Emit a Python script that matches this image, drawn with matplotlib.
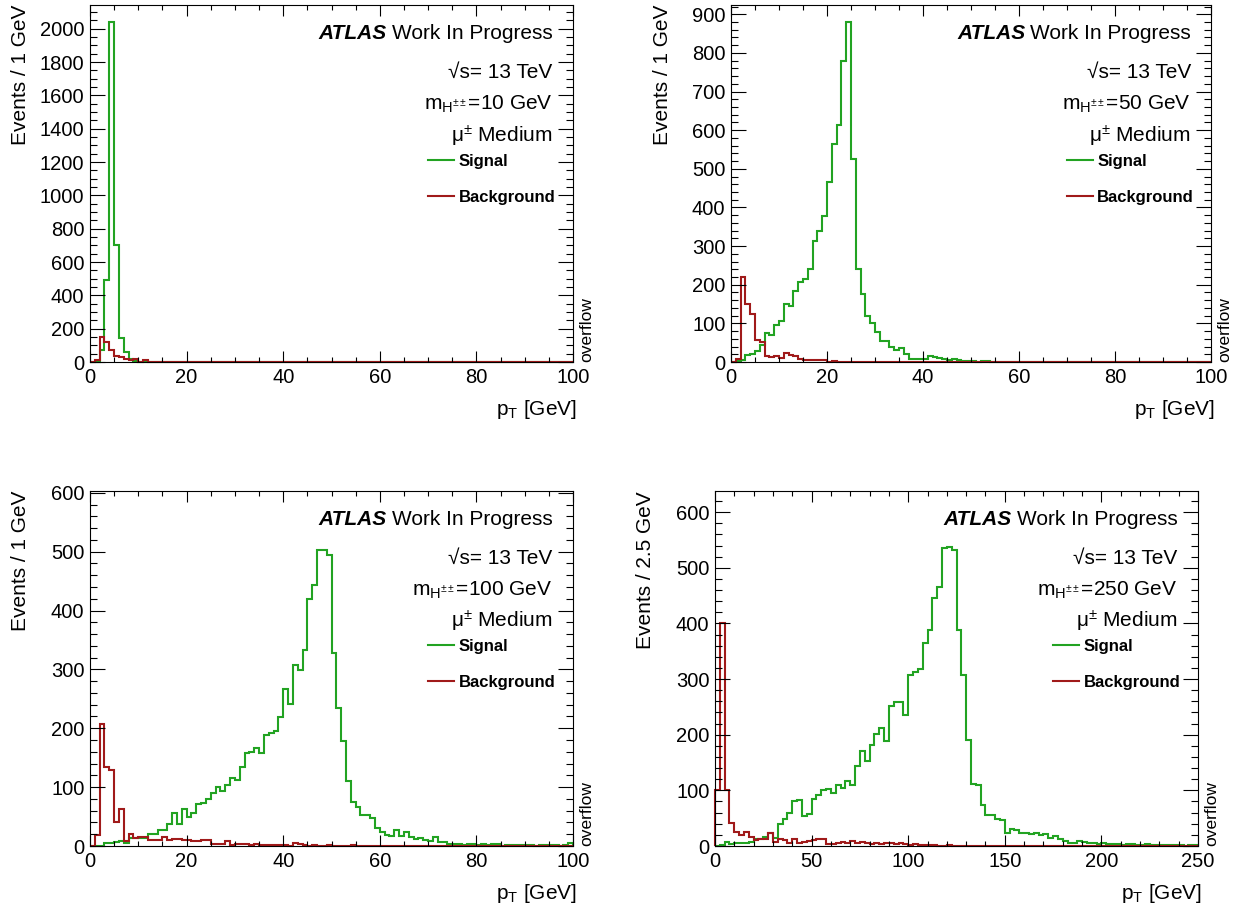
import numpy as np
import matplotlib
matplotlib.use('Agg')
import matplotlib.pyplot as plt
from matplotlib.ticker import MultipleLocator

plt.rcParams['font.family'] = ['Liberation Sans', 'DejaVu Sans']
plt.rcParams['mathtext.fontset'] = 'custom'
plt.rcParams['mathtext.rm'] = 'Liberation Sans'
plt.rcParams['mathtext.it'] = 'Liberation Sans:italic'
plt.rcParams['mathtext.bf'] = 'Liberation Sans:bold'

GREEN = '#22a322'
RED = '#a01a1a'

# muon pT, 1 GeV bins (0-100) for m = 10, 50, 100 GeV; 2.5 GeV bins (0-250) for m = 250 GeV
sig_10 = [
    0, 0, 72, 490, 2040, 700, 142, 62, 20, 6,
    3, 1, 0, 0, 0, 0, 0, 0, 0, 0,
    0, 0, 0, 0, 0, 0, 0, 0, 0, 0,
    0, 0, 0, 0, 0, 0, 0, 0, 0, 0,
    0, 0, 0, 0, 0, 0, 0, 0, 0, 0,
    0, 0, 0, 0, 0, 0, 0, 0, 0, 0,
    0, 0, 0, 0, 0, 0, 0, 0, 0, 0,
    0, 0, 0, 0, 0, 0, 0, 0, 0, 0,
    0, 0, 0, 0, 0, 0, 0, 0, 0, 0,
    0, 0, 0, 0, 0, 0, 0, 0, 0, 0,
]
bkg_10 = [
    0, 12, 148, 118, 75, 36, 28, 16, 10, 16,
    2, 12, 3, 1, 0, 0, 0, 0, 0, 0,
    0, 0, 0, 0, 0, 0, 0, 0, 0, 0,
    0, 0, 0, 0, 0, 0, 0, 0, 0, 0,
    0, 0, 0, 0, 0, 0, 0, 0, 0, 0,
    0, 0, 0, 0, 0, 0, 0, 0, 0, 0,
    0, 0, 0, 0, 0, 0, 0, 0, 0, 0,
    0, 0, 0, 0, 0, 0, 0, 0, 0, 0,
    0, 0, 0, 0, 0, 0, 0, 0, 0, 0,
    0, 0, 0, 0, 0, 0, 0, 0, 0, 0,
]

sig_50 = [
    0, 3, 6, 17, 22, 29, 43, 74, 71, 95,
    106, 149, 145, 184, 207, 214, 242, 314, 339, 378,
    467, 564, 614, 779, 880, 525, 240, 176, 119, 100,
    78, 55, 55, 39, 32, 35, 20, 9, 7, 7,
    9, 15, 13, 10, 9, 4, 8, 4, 3, 3,
    2, 0, 3, 2, 1, 0, 0, 0, 0, 0,
    0, 0, 0, 0, 0, 0, 0, 0, 0, 0,
    0, 0, 0, 0, 0, 0, 0, 0, 0, 0,
    0, 0, 0, 0, 0, 0, 0, 0, 0, 0,
    0, 0, 0, 0, 0, 0, 0, 0, 0, 0,
]
bkg_50 = [
    0, 9, 220, 149, 125, 56, 52, 15, 13, 16,
    11, 23, 17, 16, 9, 6, 4, 4, 4, 4,
    0, 3, 0, 1, 0, 0, 0, 0, 0, 0,
    0, 0, 0, 0, 0, 0, 0, 0, 0, 0,
    0, 0, 0, 0, 0, 0, 0, 0, 0, 0,
    0, 0, 0, 0, 0, 0, 0, 0, 0, 0,
    0, 0, 0, 0, 0, 0, 0, 0, 0, 0,
    0, 0, 0, 0, 0, 0, 0, 0, 0, 0,
    0, 0, 0, 0, 0, 0, 0, 0, 0, 0,
    0, 0, 0, 0, 0, 0, 0, 0, 0, 0,
]

sig_100 = [
    0, 0, 0, 5, 5, 7, 9, 5, 13, 14,
    13, 14, 20, 20, 28, 27, 37, 56, 37, 63,
    50, 56, 72, 73, 79, 90, 100, 94, 103, 116,
    112, 135, 158, 160, 167, 158, 189, 192, 196, 219,
    266, 242, 307, 299, 333, 419, 444, 502, 503, 494,
    327, 235, 178, 110, 74, 66, 52, 52, 48, 31,
    23, 18, 17, 27, 17, 23, 16, 12, 14, 10,
    8, 15, 7, 6, 4, 4, 3, 1, 4, 3,
    2, 4, 2, 3, 3, 0, 2, 1, 2, 2,
    1, 1, 0, 2, 2, 1, 2, 0, 2, 5,
]
bkg_100 = [
    0, 18, 208, 134, 129, 41, 62, 8, 21, 14,
    15, 15, 10, 11, 11, 15, 10, 12, 12, 11,
    10, 8, 8, 10, 10, 4, 4, 4, 8, 1,
    4, 3, 4, 2, 4, 2, 1, 1, 2, 1,
    1, 0, 5, 3, 1, 0, 1, 0, 0, 1,
    0, 0, 0, 0, 2, 0, 0, 0, 0, 0,
    0, 0, 0, 0, 0, 0, 0, 0, 0, 0,
    0, 0, 0, 0, 0, 0, 0, 0, 0, 0,
    0, 0, 0, 0, 0, 0, 0, 0, 0, 0,
    0, 0, 0, 0, 0, 0, 0, 0, 0, 0,
]

sig_250 = [
    0, 2, 8, 4, 5, 6, 6, 8, 12, 12,
    16, 23, 14, 40, 49, 59, 80, 83, 54, 57,
    85, 92, 100, 103, 96, 110, 105, 117, 109, 143,
    170, 153, 182, 202, 212, 189, 251, 259, 258, 236,
    308, 313, 319, 365, 388, 445, 466, 536, 537, 532,
    388, 307, 191, 111, 109, 73, 55, 55, 48, 47,
    24, 31, 28, 23, 23, 21, 23, 20, 21, 15,
    18, 12, 9, 6, 5, 9, 7, 5, 5, 3,
    5, 4, 3, 3, 2, 3, 4, 2, 2, 3,
    1, 2, 2, 1, 1, 2, 1, 0, 1, 2,
]
bkg_250 = [
    100, 400, 100, 41, 26, 20, 26, 17, 11, 12,
    12, 24, 8, 12, 11, 6, 12, 6, 8, 9,
    11, 13, 13, 4, 4, 6, 8, 6, 9, 5,
    7, 5, 4, 6, 4, 5, 6, 4, 6, 4,
    2, 3, 2, 1, 2, 1, 0, 0, 1, 0,
    0, 0, 0, 0, 0, 0, 0, 0, 0, 0,
    0, 0, 0, 0, 0, 0, 0, 0, 0, 0,
    0, 0, 0, 0, 0, 0, 0, 0, 0, 0,
    0, 0, 0, 0, 0, 0, 0, 0, 0, 0,
    0, 0, 0, 0, 0, 0, 0, 0, 0, 0,
]

edges_1 = np.arange(0, 101, 1)
edges_25 = np.arange(0, 251, 2.5)

W, H = 1237, 909
fig = plt.figure(figsize=(W / 100, H / 100), dpi=100)

panels = [
    dict(sig=sig_10, bkg=bkg_10, edges=edges_1, mass='10', ymax=2142, ymaj=200, ymin=50,
         xmaj=20, xmin=5, ylabel='Events / 1 GeV', box=(90, 573, 5, 362)),
    dict(sig=sig_50, bkg=bkg_50, edges=edges_1, mass='50', ymax=924, ymaj=100, ymin=20,
         xmaj=20, xmin=5, ylabel='Events / 1 GeV', box=(731, 1211, 5, 362)),
    dict(sig=sig_100, bkg=bkg_100, edges=edges_1, mass='100', ymax=603, ymaj=100, ymin=20,
         xmaj=20, xmin=5, ylabel='Events / 1 GeV', box=(90, 573, 491, 846)),
    dict(sig=sig_250, bkg=bkg_250, edges=edges_25, mass='250', ymax=638, ymaj=100, ymin=20,
         xmaj=50, xmin=10, ylabel='Events / 2.5 GeV', box=(715, 1198, 491, 846)),
]

FS = 15

for p in panels:
    x0, x1, y0, y1 = p['box']
    ax = fig.add_axes([x0 / W, 1 - y1 / H, (x1 - x0) / W, (y1 - y0) / H])
    hs = ax.stairs(p['sig'], p['edges'], color=GREEN, lw=1.5, baseline=0, clip_on=False)
    hb = ax.stairs(p['bkg'], p['edges'], color=RED, lw=1.5, baseline=0, clip_on=False)
    ax.set_xlim(p['edges'][0], p['edges'][-1])
    ax.set_ylim(0, p['ymax'])

    ax.xaxis.set_major_locator(MultipleLocator(p['xmaj']))
    ax.xaxis.set_minor_locator(MultipleLocator(p['xmin']))
    ax.yaxis.set_major_locator(MultipleLocator(p['ymaj']))
    ax.yaxis.set_minor_locator(MultipleLocator(p['ymin']))
    ax.tick_params(which='both', direction='in', top=True, right=True, width=0.8,
                   labelsize=14.5)
    ax.tick_params(axis='x', which='major', length=7.7, pad=4)
    ax.tick_params(axis='x', which='minor', length=3.9)
    ax.tick_params(axis='y', which='major', length=10.6, pad=4)
    ax.tick_params(axis='y', which='minor', length=5.3)
    for s in ax.spines.values():
        s.set_linewidth(0.8)

    ax.text(-0.143, 1.0, p['ylabel'], transform=ax.transAxes, rotation=90,
            ha='center', va='top', fontsize=FS)
    ax.text(1.008, -0.134, r'p$_{\mathregular{T}}$ [GeV]', transform=ax.transAxes,
            ha='right', va='center', fontsize=FS)
    ax.text(1.029, 0.0, 'overflow', transform=ax.transAxes, rotation=90,
            ha='center', va='bottom', fontsize=12.5)

    # ATLAS label block
    t = ax.text(0.958, 0.921, 'Work In Progress', transform=ax.transAxes,
                ha='right', va='center', fontsize=FS)
    fig.canvas.draw()
    bb = t.get_window_extent()
    xa = ax.transAxes.inverted().transform((bb.x0 - 5, bb.y0))[0]
    ax.text(xa, 0.921, 'ATLAS', transform=ax.transAxes, ha='right', va='center',
            fontsize=FS, weight='bold', style='italic')
    ax.text(0.958, 0.811, '√s= 13 TeV', transform=ax.transAxes,
            ha='right', va='center', fontsize=FS)
    ax.text(0.958, 0.721, r'm$_{\mathregular{H^{\pm\pm}}}$=' + p['mass'] + ' GeV',
            transform=ax.transAxes, ha='right', va='center', fontsize=FS)
    ax.text(0.958, 0.632, r'μ$^{\pm}$ Medium', transform=ax.transAxes,
            ha='right', va='center', fontsize=FS)

    ax.legend([hs, hb], ['Signal', 'Background'], loc='upper left',
              bbox_to_anchor=(0.699, 0.583), frameon=False,
              prop=dict(weight='bold', size=12), handlelength=1.6,
              handletextpad=0.25, labelspacing=1.25, borderpad=0, borderaxespad=0)

fig.savefig('out.png', dpi=100)
